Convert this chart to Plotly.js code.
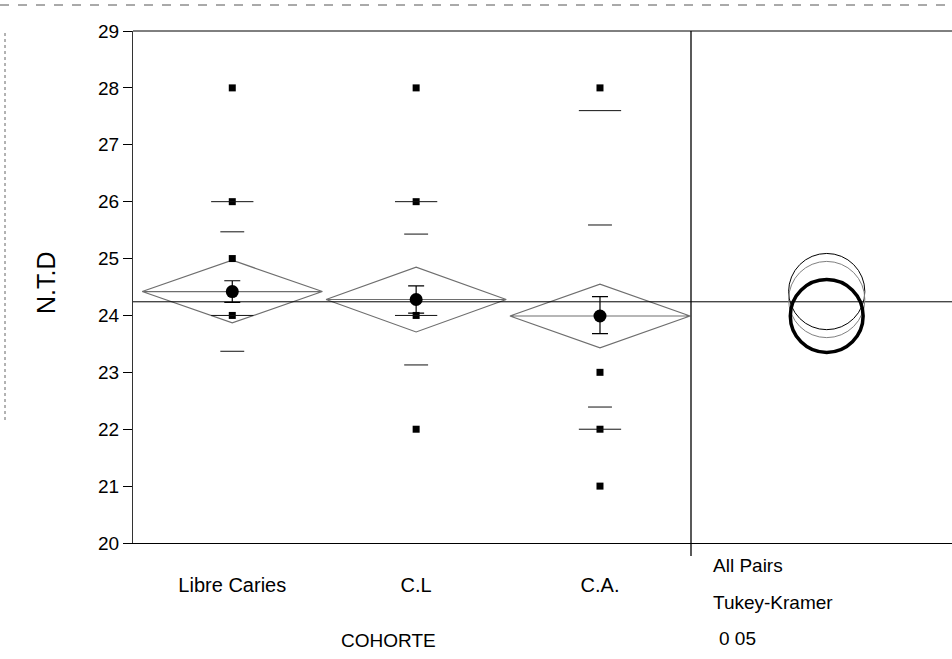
<!DOCTYPE html>
<html>
<head>
<meta charset="utf-8">
<script src="https://cdn.plot.ly/plotly-3.0.1.min.js"></script>
<style>html,body{margin:0;padding:0;background:#fff;}#chart{width:952px;height:659px;}</style>
</head>
<body>
<div id="chart"></div>
<script>
// ---- data ----
const categories = ['Libre Caries', 'C.L', 'C.A.'];
const obsLibreCaries = [28, 26, 25, 24];
const obsCL = [28, 26, 24, 22];
const obsCA = [28, 23, 22, 21];
const groupMeans = [24.42, 24.28, 23.99];
const ciHalfWidth = [0.55, 0.57, 0.56];
const meanErrUpper = [24.61, 24.52, 24.33];
const meanErrLower = [24.23, 24.04, 23.68];
const stdDev = [1.05, 1.15, 1.60];
const quantileLow = [24, 24, 22];
const quantileHigh = [26, 26, 27.6];
const grandMean = 24.24;
const compCircleRadius = [0.67, 0.67, 0.64];
const yTicks = [20, 21, 22, 23, 24, 25, 26, 27, 28, 29];
const rightPanelLabels = ['All Pairs', 'Tukey-Kramer', '0 05'];

// ---- layout constants ----
const W = 952, H = 659;
const M = {l: 133, r: 0, t: 31, b: 116};
const plotH = H - M.t - M.b;
const yRange = [20, 29];
const pxPerY = plotH / (yRange[1] - yRange[0]);
const splitFrac = (691 - M.l) / (W - M.l - M.r);
const FONT = 'Liberation Sans, Arial, sans-serif';
const px2x = p => (p - M.l) / (W - M.l);
const px2y = p => (M.t + plotH - p) / plotH;

const obsGroups = [obsLibreCaries, obsCL, obsCA];
const traces = [];

// diamonds (mean CI) with mean line through tips
groupMeans.forEach((m, i) => {
  const h = 0.49, c = ciHalfWidth[i];
  traces.push({
    x: [i - h, i, i + h, i, i - h, i + h],
    y: [m, m + c, m, m - c, m, m],
    mode: 'lines', line: {color: '#6e6e6e', width: 1.2},
    hoverinfo: 'skip', showlegend: false, xaxis: 'x', yaxis: 'y'
  });
});

// observations
const ox = [], oy = [];
obsGroups.forEach((g, i) => g.forEach(v => { ox.push(i); oy.push(v); }));
traces.push({
  x: ox, y: oy, mode: 'markers', type: 'scatter',
  marker: {symbol: 'square', size: 7, color: '#000'},
  showlegend: false, xaxis: 'x', yaxis: 'y'
});

// means with error bars
traces.push({
  x: categories.map((c, i) => i), y: groupMeans, mode: 'markers', type: 'scatter',
  marker: {symbol: 'circle', size: 13, color: '#000'},
  error_y: {type: 'data', symmetric: false,
    array: meanErrUpper.map((u, i) => u - groupMeans[i]),
    arrayminus: groupMeans.map((m, i) => m - meanErrLower[i]),
    color: '#000', thickness: 1.2, width: 8},
  showlegend: false, xaxis: 'x', yaxis: 'y'
});

// dummy trace for right panel axis
traces.push({x: [0, 1], y: [grandMean, grandMean], mode: 'lines', line: {width: 0}, hoverinfo: 'skip', showlegend: false, xaxis: 'x2', yaxis: 'y'});

const shapes = [];
// std-dev lines and quantile lines
groupMeans.forEach((m, i) => {
  [m + stdDev[i], m - stdDev[i]].forEach(v => shapes.push({type: 'line', xref: 'x', yref: 'y', x0: i - 0.065, x1: i + 0.065, y0: v, y1: v, line: {color: '#111', width: 1}}));
  [quantileLow[i], quantileHigh[i]].forEach(v => shapes.push({type: 'line', xref: 'x', yref: 'y', x0: i - 0.115, x1: i + 0.115, y0: v, y1: v, line: {color: '#111', width: 1}}));
});
// grand mean
shapes.push({type: 'line', xref: 'paper', yref: 'y', x0: 0, x1: 1, y0: grandMean, y1: grandMean, line: {color: '#000', width: 1}});
// top border
shapes.push({type: 'line', xref: 'paper', yref: 'paper', x0: 0, x1: 1, y0: 1, y1: 1, line: {color: '#000', width: 1}});
// divider
shapes.push({type: 'line', xref: 'paper', yref: 'paper', x0: splitFrac, x1: splitFrac, y0: px2y(556), y1: 1, line: {color: '#000', width: 1.3}});
// scan frame remnants
shapes.push({type: 'line', xref: 'paper', yref: 'paper', x0: px2x(0), x1: 1, y0: px2y(5), y1: px2y(5), line: {color: '#555', width: 1, dash: 'dash'}});
shapes.push({type: 'line', xref: 'paper', yref: 'paper', x0: px2x(5), x1: px2x(5), y0: px2y(420), y1: px2y(30), line: {color: '#666', width: 1, dash: 'dot'}});

// comparison circles
const circleStyles = [{color: '#000', width: 1}, {color: '#808080', width: 1}, {color: '#000', width: 3.5}];
groupMeans.forEach((m, i) => {
  const r = compCircleRadius[i], rp = r * pxPerY;
  shapes.push({type: 'circle', xref: 'x2', yref: 'y', xsizemode: 'pixel', xanchor: 0.52,
    x0: -rp, x1: rp, y0: m - r, y1: m + r, line: circleStyles[i]});
});

const annotations = [
  {text: 'COHORTE', xref: 'paper', yref: 'paper', x: px2x(388), y: px2y(640), xanchor: 'center', yanchor: 'middle', showarrow: false, font: {family: FONT, size: 19, color: '#000'}},
  {text: 'N.T.D', xref: 'paper', yref: 'paper', x: px2x(46), y: px2y(283), xanchor: 'center', yanchor: 'middle', textangle: -90, showarrow: false, font: {family: FONT, size: 25, color: '#000'}}
];
const panelY = [565, 602, 638], panelX = [711, 711, 717];
rightPanelLabels.forEach((t, k) => annotations.push({
  text: t, xref: 'paper', yref: 'paper', xanchor: 'left', yanchor: 'middle', x: px2x(panelX[k]), y: px2y(panelY[k]),
  showarrow: false, font: {family: FONT, size: 19, color: '#000'}
}));

const layout = {
  width: W, height: H, margin: M, paper_bgcolor: '#fff', plot_bgcolor: '#fff',
  font: {family: FONT, color: '#000'},
  xaxis: {domain: [0, splitFrac], range: [-0.54, 2.495], tickvals: [0, 1, 2], ticktext: categories,
    showgrid: false, zeroline: false, showline: true, linecolor: '#000', linewidth: 1, ticks: '',
    ticklabelstandoff: 24, tickfont: {size: 20, family: FONT, color: '#000'}},
  xaxis2: {domain: [splitFrac, 1], range: [0, 1], anchor: 'y', showgrid: false, zeroline: false,
    showline: true, linecolor: '#000', showticklabels: false, ticks: ''},
  yaxis: {range: yRange, tickvals: yTicks, showgrid: false, zeroline: false, showline: true,
    linecolor: '#333', linewidth: 1, ticks: 'outside', ticklen: 9, tickcolor: '#000',
    tickfont: {size: 19, family: FONT, color: '#000'}},
  shapes: shapes, annotations: annotations, showlegend: false
};

Plotly.newPlot('chart', traces, layout, {staticPlot: true});
</script>
</body>
</html>
